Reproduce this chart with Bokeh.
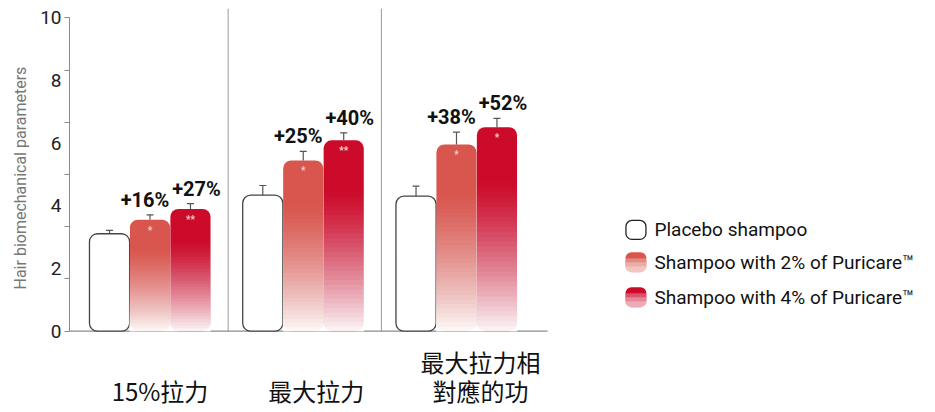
import numpy as np
from bokeh.plotting import figure
from bokeh.models import (ColumnDataSource, FixedTicker, LinearAxis, Range1d, Title,
                          CustomJSTickFormatter)
from bokeh.core.properties import value
from bokeh.embed import file_html
from bokeh.resources import INLINE

# ---------------- data ----------------
categories = ["15%拉力", "最大拉力", "最大拉力相\n對應的功"]
series_names = ["Placebo shampoo", "Shampoo with 2% of Puricare™", "Shampoo with 4% of Puricare™"]
placebo = [3.11, 4.34, 4.31]
placebo_err = [0.11, 0.31, 0.32]
puricare2 = [3.56, 5.45, 5.96]
puricare2_err = [0.15, 0.29, 0.39]
puricare4 = [3.90, 6.09, 6.51]
puricare4_err = [0.17, 0.24, 0.28]
gain2 = ["+16%", "+25%", "+38%"]
gain4 = ["+27%", "+40%", "+52%"]
sig2 = ["*", "*", "*"]
sig4 = ["**", "**", "*"]
y_label_ticks = [0, 2, 4, 6, 8, 10]
y_mark_ticks = [0, 10 / 6, 20 / 6, 5, 40 / 6, 50 / 6, 10]

# ---------------- layout / style ----------------
W, H = 926, 410
X0, X1 = -0.5253, 5.067
Y0, Y1 = -2.530, 10.297
PX_Y = 31.34          # pixels per y unit
STEP = 0.264          # bar offset inside a group
BW = 0.262            # bar width
C2 = "#d9564e"
C4 = "#cc0a2a"
AX = "#8a8a8a"
TXT = "#111111"
cat_shift = [10, 13, 24]
CAT_Y = -1.892
CAT_PITCH = 29

p = figure(width=W, height=H, x_range=Range1d(X0, X1), y_range=Range1d(Y0, Y1),
           output_backend="svg", toolbar_location=None, x_axis_location=None,
           min_border_left=69, min_border_right=0, min_border_top=8, min_border_bottom=0)
p.grid.visible = False
p.outline_line_color = None
p.background_fill_color = "white"
p.border_fill_color = "white"

# y axis: tick marks only (inner), labels only (outer)
ax = p.yaxis[0]
ax.ticker = FixedTicker(ticks=y_mark_ticks, minor_ticks=[])
ax.formatter = CustomJSTickFormatter(code="return ''")
ax.bounds = (0, 10)
ax.major_label_text_color = None
ax.major_label_standoff = 0
ax.major_tick_out = 5
ax.major_tick_in = 0
ax.minor_tick_out = 0
ax.minor_tick_in = 0
ax.axis_line_color = AX
ax.major_tick_line_color = AX

ax2 = LinearAxis(ticker=FixedTicker(ticks=y_label_ticks, minor_ticks=[]))
ax2.bounds = (0, 10)
ax2.axis_line_color = None
ax2.major_tick_line_color = None
ax2.minor_tick_line_color = None
ax2.major_tick_out = 0
ax2.major_tick_in = 0
ax2.major_label_standoff = 3
ax2.major_label_text_font = "Roboto"
ax2.major_label_text_font_size = "19px"
ax2.major_label_text_color = "#222222"
p.add_layout(ax2, "left")

ylab = Title(text="Hair biomechanical parameters", align="left", offset=121,
             text_font="Roboto", text_font_size="16px", text_font_style="normal",
             text_color="#777777", standoff=16)
p.add_layout(ylab, "left")

gx = np.arange(len(categories), dtype=float)
x_pl = gx - STEP
x_2 = gx
x_4 = gx + STEP

# separators and baseline
p.segment(x0=[0.51, 1.51], y0=[0, 0], x1=[0.51, 1.51], y1=[Y1, Y1], line_color="#9a9a9a", line_width=1)
p.segment(x0=[X0], y0=[0], x1=[2.594], y1=[0], line_color=AX, line_width=1.2)

# placebo bars
p.vbar(x=x_pl, top=placebo, bottom=0, width=BW, fill_color="white",
       line_color="#444444", line_width=1.3, border_radius=8)


def fade_layers(xc, tops, width, n=30, t0=0.27, wmax=0.95, gamma=1.2):
    L, R, T, A = [], [], [], []
    for x, top in zip(xc, tops):
        prev = 0.0
        for k in range(1, n + 1):
            t = t0 + (1 - t0) * (k - 1) / n
            w = wmax * (k / n) ** gamma
            a = 1 - (1 - w) / (1 - prev)
            prev = w
            L.append(x - width / 2)
            R.append(x + width / 2)
            T.append(top * (1 - t))
            A.append(a)
    return ColumnDataSource(dict(left=L, right=R, top=T, bottom=[0] * len(T), alpha=A))


for xs, vals, col in [(x_2, puricare2, C2), (x_4, puricare4, C4)]:
    p.vbar(x=xs, top=vals, bottom=0, width=BW, fill_color=col, line_color=None, border_radius=8)
    src = fade_layers(xs, vals, BW + 0.004)
    p.quad(left="left", right="right", top="top", bottom="bottom", source=src,
           fill_color="white", fill_alpha="alpha", line_color=None)

# error bars
for xs, vals, errs in [(x_pl, placebo, placebo_err), (x_2, puricare2, puricare2_err), (x_4, puricare4, puricare4_err)]:
    ups = [v + e for v, e in zip(vals, errs)]
    p.segment(x0=xs, y0=vals, x1=xs, y1=ups, line_color="#555555", line_width=1.2)
    p.scatter(x=xs, y=ups, marker="dash", size=7, line_color="#555555", line_width=1.2)

# significance marks
p.text(x=x_2, y=puricare2, text=sig2, y_offset=5, text_align="center", text_baseline="top",
       text_font=value("Roboto"), text_font_size="10px", text_font_style="bold", text_color="#f6cfcf")
p.text(x=x_4, y=puricare4, text=sig4, y_offset=5, text_align="center", text_baseline="top",
       text_font=value("Roboto"), text_font_size="10px", text_font_style="bold", text_color="#f6cfcf")

# percentage labels
up2 = [v + e for v, e in zip(puricare2, puricare2_err)]
up4 = [v + e for v, e in zip(puricare4, puricare4_err)]
p.text(x=x_2, y=up2, text=gain2, x_offset=-5, y_offset=-3, text_align="center", text_baseline="bottom",
       text_font=value("Roboto"), text_font_size="20px", text_font_style="bold", text_color=TXT)
p.text(x=x_4, y=up4, text=gain4, x_offset=6, y_offset=-3, text_align="center", text_baseline="bottom",
       text_font=value("Roboto"), text_font_size="20px", text_font_style="bold", text_color=TXT)

# category labels (one text per line)
cx, cy, ct, cdx, cdy = [], [], [], [], []
for i, cat in enumerate(categories):
    lines = cat.split("\n")
    n = len(lines)
    for j, line in enumerate(lines):
        cx.append(gx[i])
        cy.append(CAT_Y)
        ct.append(line)
        cdx.append(cat_shift[i])
        cdy.append(-(n - 1 - j) * CAT_PITCH)
cat_src = ColumnDataSource(dict(x=cx, y=cy, text=ct, dx=cdx, dy=cdy))
p.text(x="x", y="y", text="text", x_offset="dx", y_offset="dy", source=cat_src, text_align="center",
       text_baseline="middle", text_font=value("Noto Sans CJK TC"), text_font_size="24px",
       text_color=TXT)

# legend (drawn)
leg_x = 3.171
leg_tx = 3.292
leg_y = [3.232, 2.197, 1.083]
p.rect(x=[leg_x], y=[leg_y[0]], width=20, height=19, width_units="screen", height_units="screen",
       fill_color="white", line_color="#222222", line_width=1.3, border_radius=6)
p.rect(x=[leg_x, leg_x], y=leg_y[1:], width=21, height=20, width_units="screen", height_units="screen",
       fill_color=[C2, C4], line_color=None, border_radius=6)
for h in [14, 10, 6]:
    ry = [yy - (20 - h) / 2 / PX_Y for yy in leg_y[1:]]
    p.rect(x=[leg_x, leg_x], y=ry, width=21, height=h, width_units="screen", height_units="screen",
           fill_color="white", fill_alpha=0.3, line_color=None)
p.text(x=[leg_tx] * 3, y=leg_y, text=series_names, text_align="left", text_baseline="middle",
       text_font=value("Roboto"), text_font_size="19px", text_color=TXT)

open("out.html", "w").write(file_html(p, INLINE))
